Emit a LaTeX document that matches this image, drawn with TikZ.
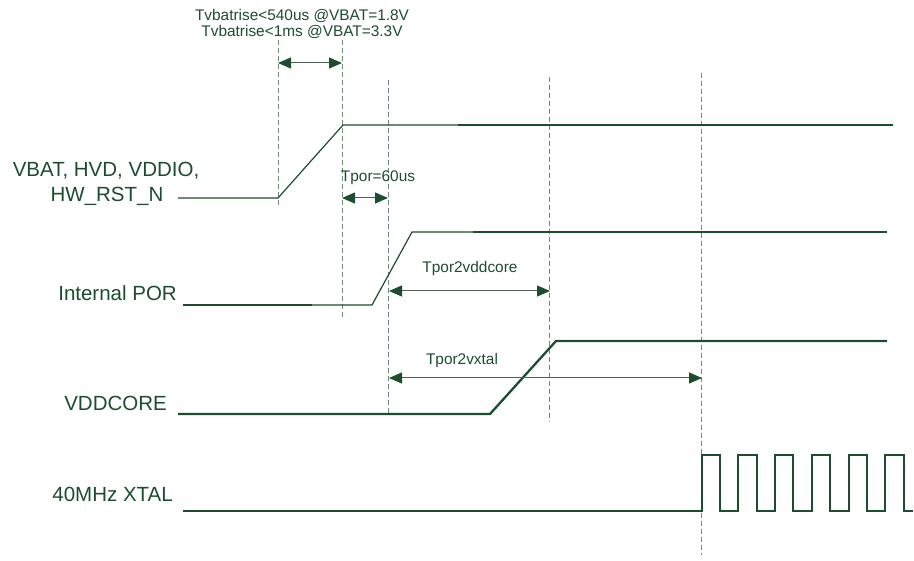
\documentclass[tikz,border=0pt]{standalone}
\usepackage{fontspec}
\setmainfont{Liberation Sans}
\usetikzlibrary{arrows.meta}
\definecolor{sigcol}{RGB}{28,77,46}
\definecolor{gridcol}{RGB}{110,140,120}

\begin{document}
\begin{tikzpicture}[x=1pt,y=-1pt,
	sig/.style={draw=sigcol,line width=1.2pt},
	sigthick/.style={draw=sigcol,line width=2.3pt},
	marker/.style={draw=gridcol,line width=0.9pt,dash pattern=on 5pt off 3pt},
	span/.style={draw=gridcol!70!black,line width=1pt,
		{Triangle[length=13pt,width=11pt,color=sigcol]}-{Triangle[length=13pt,width=11pt,color=sigcol]}},
	lbl/.style={text=sigcol,inner sep=0pt,font=\fontsize{20.5}{24}\selectfont},
	tlbl/.style={text=sigcol,inner sep=0pt,font=\fontsize{15.4}{18}\selectfont}]
	\useasboundingbox (0,0) rectangle (914,561);

	% time markers
	\coordinate (m0a) at (278,40);  \coordinate (m0b) at (278,208);
	\coordinate (m1a) at (342,40);  \coordinate (m1b) at (342,320);
	\coordinate (m2a) at (388,80);  \coordinate (m2b) at (388,415);
	\coordinate (m3a) at (549,77);  \coordinate (m3b) at (549,422);
	\coordinate (m4a) at (701,73);  \coordinate (m4b) at (701,555);
	\foreach \m in {0,...,4}
		\draw[marker] (m\m a) -- (m\m b);

	% signal names
	\node[lbl,anchor=base] (vbat) at (106,177) {VBAT, HVD, VDDIO,};
	\node[lbl,anchor=base] (rstn) at (107,202) {HW\_RST\_N};
	\node[lbl,anchor=base east] (por) at (177,301) {Internal POR};
	\node[lbl,anchor=base east] (core) at (167,411) {VDDCORE};
	\node[lbl,anchor=base east] (xtal) at (173,502) {40MHz XTAL};

	% VBAT
	\draw[sig] (178,198) -- (278,198) -- (343,125) -- (458,125);
	\draw[sigthick] (458,125) -- (893,125);
	% Internal POR
	\draw[sigthick] (183,305) -- (312,305);
	\draw[sig] (312,305) -- (372,305) -- (412,232) -- (473,232);
	\draw[sigthick] (473,232) -- (887,232);
	% VDDCORE
	\draw[sigthick] (178,414) -- (490,414) -- (556,341) -- (887,341);
	% XTAL
	\draw[sigthick,line width=2pt] (183,511) -- (701.7,511)
		\foreach \k in {0,...,4}{ -- ++(0,-56) -- ++(18.3,0) -- ++(0,56) -- ++(18.4,0)}
		-- ++(0,-56) -- ++(18.3,0) -- ++(0,56) -- (913,511);

	% intervals
	\coordinate (riseL) at (278,63);   \coordinate (riseR) at (342,63);
	\coordinate (porL) at (342,198);   \coordinate (porR) at (388,198);
	\coordinate (coreL) at (389,291);  \coordinate (coreR) at (550,291);
	\coordinate (xtalL) at (389,378);  \coordinate (xtalR) at (702,378);
	\draw[span] (riseL) -- (riseR);
	\draw[span] (porL) -- (porR);
	\draw[span] (coreL) -- (coreR);
	\draw[span] (xtalL) -- (xtalR);

	\node[tlbl,anchor=base] (riseA) at (302,21) {Tvbatrise<540us  @VBAT=1.8V};
	\node[tlbl,anchor=base] (riseB) at (302,37) {Tvbatrise<1ms @VBAT=3.3V};
	\node[tlbl,anchor=base] (tpor) at (378,182) {Tpor=60us};
	\node[tlbl,anchor=base] (tcore) at (470,273) {Tpor2vddcore};
	\node[tlbl,anchor=base] (txtal) at (462,365) {Tpor2vxtal};
\end{tikzpicture}
\end{document}
